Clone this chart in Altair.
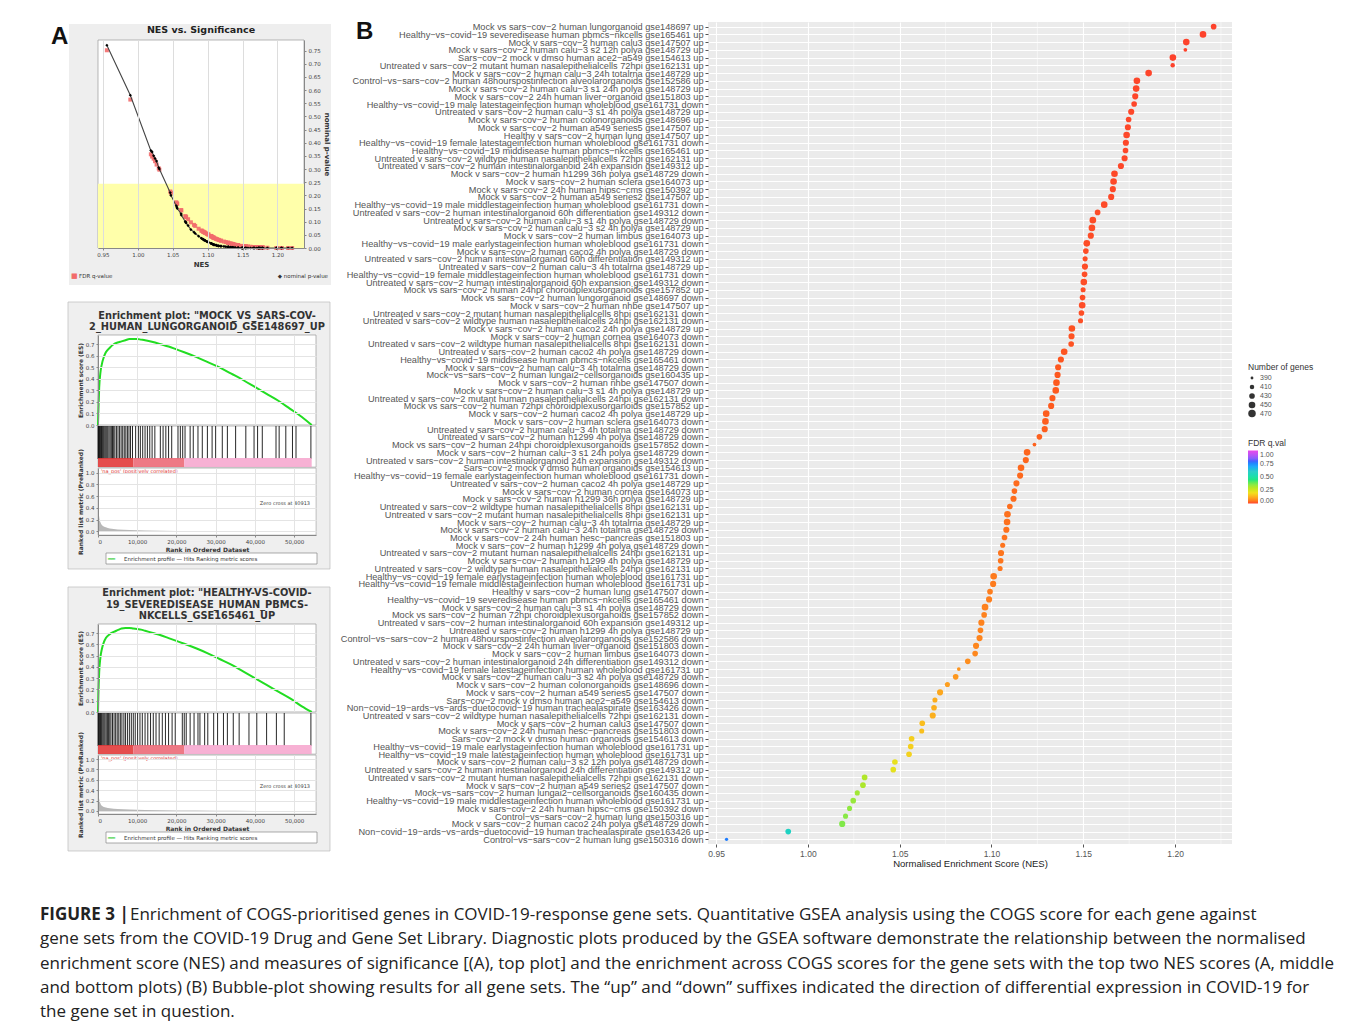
import altair as alt
import pandas as pd

# ---------------- Panel B data ----------------
LABELS = [
    "Mock vs sars−cov−2 human lungorganoid gse148697 up",
    "Healthy−vs−covid−19 severedisease human pbmcs−nkcells gse165461 up",
    "Mock v sars−cov−2 human calu3 gse147507 up",
    "Mock v sars−cov−2 human calu−3 s2 12h polya gse148729 up",
    "Sars−cov−2 mock v dmso human ace2−a549 gse154613 up",
    "Untreated v sars−cov−2 mutant human nasalepithelialcells 72hpi gse162131 up",
    "Mock v sars−cov−2 human calu−3 24h totalrna gse148729 up",
    "Control−vs−sars−cov−2 human 48hourspostinfection alveolarorganoids gse152586 up",
    "Mock v sars−cov−2 human calu−3 s1 24h polya gse148729 up",
    "Mock v sars−cov−2 24h human liver−organoid gse151803 up",
    "Healthy−vs−covid−19 male latestageinfection human wholeblood gse161731 down",
    "Untreated v sars−cov−2 human calu−3 s1 4h polya gse148729 up",
    "Mock v sars−cov−2 human colonorganoids gse148696 up",
    "Mock v sars−cov−2 human a549 series5 gse147507 up",
    "Healthy v sars−cov−2 human lung gse147507 up",
    "Healthy−vs−covid−19 female latestageinfection human wholeblood gse161731 down",
    "Healthy−vs−covid−19 middisease human pbmcs−nkcells gse165461 up",
    "Untreated v sars−cov−2 wildtype human nasalepithelialcells 72hpi gse162131 up",
    "Untreated v sars−cov−2 human intestinalorganoid 24h expansion gse149312 up",
    "Mock v sars−cov−2 human h1299 36h polya gse148729 down",
    "Mock v sars−cov−2 human sclera gse164073 up",
    "Mock v sars−cov−2 24h human hipsc−cms gse150392 up",
    "Mock v sars−cov−2 human a549 series2 gse147507 up",
    "Healthy−vs−covid−19 male middlestageinfection human wholeblood gse161731 down",
    "Untreated v sars−cov−2 human intestinalorganoid 60h differentiation gse149312 down",
    "Untreated v sars−cov−2 human calu−3 s1 4h polya gse148729 down",
    "Mock v sars−cov−2 human calu−3 s2 4h polya gse148729 up",
    "Mock v sars−cov−2 human limbus gse164073 up",
    "Healthy−vs−covid−19 male earlystageinfection human wholeblood gse161731 down",
    "Mock v sars−cov−2 human caco2 4h polya gse148729 down",
    "Untreated v sars−cov−2 human intestinalorganoid 60h differentiation gse149312 up",
    "Untreated v sars−cov−2 human calu−3 4h totalrna gse148729 up",
    "Healthy−vs−covid−19 female middlestageinfection human wholeblood gse161731 down",
    "Untreated v sars−cov−2 human intestinalorganoid 60h expansion gse149312 down",
    "Mock vs sars−cov−2 human 24hpi choroidplexusorganoids gse157852 up",
    "Mock vs sars−cov−2 human lungorganoid gse148697 down",
    "Mock v sars−cov−2 human nhbe gse147507 up",
    "Untreated v sars−cov−2 mutant human nasalepithelialcells 8hpi gse162131 down",
    "Untreated v sars−cov−2 wildtype human nasalepithelialcells 24hpi gse162131 down",
    "Mock v sars−cov−2 human caco2 24h polya gse148729 up",
    "Mock v sars−cov−2 human cornea gse164073 down",
    "Untreated v sars−cov−2 wildtype human nasalepithelialcells 8hpi gse162131 down",
    "Untreated v sars−cov−2 human caco2 4h polya gse148729 down",
    "Healthy−vs−covid−19 middisease human pbmcs−nkcells gse165461 down",
    "Mock v sars−cov−2 human calu−3 4h totalrna gse148729 down",
    "Mock−vs−sars−cov−2 human lungai2−cellsorganoids gse160435 up",
    "Mock v sars−cov−2 human nhbe gse147507 down",
    "Mock v sars−cov−2 human calu−3 s1 4h polya gse148729 up",
    "Untreated v sars−cov−2 mutant human nasalepithelialcells 24hpi gse162131 down",
    "Mock vs sars−cov−2 human 72hpi choroidplexusorganoids gse157852 up",
    "Mock v sars−cov−2 human caco2 4h polya gse148729 up",
    "Mock v sars−cov−2 human sclera gse164073 down",
    "Untreated v sars−cov−2 human calu−3 4h totalrna gse148729 down",
    "Untreated v sars−cov−2 human h1299 4h polya gse148729 down",
    "Mock vs sars−cov−2 human 24hpi choroidplexusorganoids gse157852 down",
    "Mock v sars−cov−2 human calu−3 s1 24h polya gse148729 down",
    "Untreated v sars−cov−2 human intestinalorganoid 24h expansion gse149312 down",
    "Sars−cov−2 mock v dmso human organoids gse154613 up",
    "Healthy−vs−covid−19 female earlystageinfection human wholeblood gse161731 down",
    "Untreated v sars−cov−2 human caco2 4h polya gse148729 up",
    "Mock v sars−cov−2 human cornea gse164073 up",
    "Mock v sars−cov−2 human h1299 36h polya gse148729 up",
    "Untreated v sars−cov−2 wildtype human nasalepithelialcells 8hpi gse162131 up",
    "Untreated v sars−cov−2 mutant human nasalepithelialcells 8hpi gse162131 up",
    "Mock v sars−cov−2 human calu−3 4h totalrna gse148729 up",
    "Mock v sars−cov−2 human calu−3 24h totalrna gse148729 down",
    "Mock v sars−cov−2 24h human hesc−pancreas gse151803 up",
    "Mock v sars−cov−2 human h1299 4h polya gse148729 down",
    "Untreated v sars−cov−2 mutant human nasalepithelialcells 24hpi gse162131 up",
    "Mock v sars−cov−2 human h1299 4h polya gse148729 up",
    "Untreated v sars−cov−2 wildtype human nasalepithelialcells 24hpi gse162131 up",
    "Healthy−vs−covid−19 female earlystageinfection human wholeblood gse161731 up",
    "Healthy−vs−covid−19 female middlestageinfection human wholeblood gse161731 up",
    "Healthy v sars−cov−2 human lung gse147507 down",
    "Healthy−vs−covid−19 severedisease human pbmcs−nkcells gse165461 down",
    "Mock v sars−cov−2 human calu−3 s1 4h polya gse148729 down",
    "Mock vs sars−cov−2 human 72hpi choroidplexusorganoids gse157852 down",
    "Untreated v sars−cov−2 human intestinalorganoid 60h expansion gse149312 up",
    "Untreated v sars−cov−2 human h1299 4h polya gse148729 up",
    "Control−vs−sars−cov−2 human 48hourspostinfection alveolarorganoids gse152586 down",
    "Mock v sars−cov−2 24h human liver−organoid gse151803 down",
    "Mock v sars−cov−2 human limbus gse164073 down",
    "Untreated v sars−cov−2 human intestinalorganoid 24h differentiation gse149312 down",
    "Healthy−vs−covid−19 female latestageinfection human wholeblood gse161731 up",
    "Mock v sars−cov−2 human calu−3 s2 4h polya gse148729 down",
    "Mock v sars−cov−2 human colonorganoids gse148696 down",
    "Mock v sars−cov−2 human a549 series5 gse147507 down",
    "Sars−cov−2 mock v dmso human ace2−a549 gse154613 down",
    "Non−covid−19−ards−vs−ards−duetocovid−19 human trachealaspirate gse163426 down",
    "Untreated v sars−cov−2 wildtype human nasalepithelialcells 72hpi gse162131 down",
    "Mock v sars−cov−2 human calu3 gse147507 down",
    "Mock v sars−cov−2 24h human hesc−pancreas gse151803 down",
    "Sars−cov−2 mock v dmso human organoids gse154613 down",
    "Healthy−vs−covid−19 male earlystageinfection human wholeblood gse161731 up",
    "Healthy−vs−covid−19 male latestageinfection human wholeblood gse161731 up",
    "Mock v sars−cov−2 human calu−3 s2 12h polya gse148729 down",
    "Untreated v sars−cov−2 human intestinalorganoid 24h differentiation gse149312 up",
    "Untreated v sars−cov−2 mutant human nasalepithelialcells 72hpi gse162131 down",
    "Mock v sars−cov−2 human a549 series2 gse147507 down",
    "Mock−vs−sars−cov−2 human lungai2−cellsorganoids gse160435 down",
    "Healthy−vs−covid−19 male middlestageinfection human wholeblood gse161731 up",
    "Mock v sars−cov−2 24h human hipsc−cms gse150392 down",
    "Control−vs−sars−cov−2 human lung gse150316 up",
    "Mock v sars−cov−2 human caco2 24h polya gse148729 down",
    "Non−covid−19−ards−vs−ards−duetocovid−19 human trachealaspirate gse163426 up",
    "Control−vs−sars−cov−2 human lung gse150316 down",
]

NES = [
    1.2210, 1.2152, 1.2061, 1.2056, 1.1988, 1.1987, 1.1856, 1.1792, 1.1788, 1.1783,
    1.1777, 1.1761, 1.1747, 1.1743, 1.1736, 1.1732, 1.1730, 1.1725, 1.1705, 1.1670,
    1.1665, 1.1661, 1.1652, 1.1614, 1.1578, 1.1552, 1.1547, 1.1541, 1.1519, 1.1514,
    1.1510, 1.1509, 1.1507, 1.1503, 1.1499, 1.1496, 1.1494, 1.1490, 1.1485, 1.1438,
    1.1436, 1.1434, 1.1396, 1.1378, 1.1363, 1.1360, 1.1354, 1.1350, 1.1332, 1.1325,
    1.1298, 1.1294, 1.1290, 1.1261, 1.1234, 1.1194, 1.1187, 1.1161, 1.1156, 1.1136,
    1.1125, 1.1120, 1.1100, 1.1087, 1.1085, 1.1081, 1.1071, 1.1061, 1.1052, 1.1050,
    1.1047, 1.1012, 1.1009, 1.0992, 1.0987, 1.0965, 1.0960, 1.0945, 1.0940, 1.0935,
    1.0916, 1.0911, 1.0871, 1.0822, 1.0805, 1.0760, 1.0720, 1.0692, 1.0687, 1.0680,
    1.0623, 1.0620, 1.0565, 1.0560, 1.0551, 1.0474, 1.0465, 1.0309, 1.0300, 1.0269,
    1.0247, 1.0227, 1.0205, 1.0187, 0.9893, 0.9557,
]

FDR = [
    0.000, 0.000, 0.000, 0.000, 0.000, 0.000, 0.001,
    0.002, 0.002, 0.002, 0.002, 0.003, 0.003, 0.003, 0.003, 0.003, 0.003, 0.003, 0.003, 0.004, 0.004, 0.004, 0.004,
    0.005, 0.006, 0.006, 0.006, 0.007, 0.007, 0.007, 0.007, 0.007, 0.007, 0.007, 0.007, 0.007, 0.007, 0.008, 0.008,
    0.011, 0.011, 0.011, 0.013, 0.014, 0.015, 0.015, 0.016, 0.016, 0.017, 0.018,
    0.020, 0.020, 0.021, 0.023, 0.025, 0.028, 0.029, 0.031, 0.032, 0.034,
    0.035, 0.036, 0.038, 0.040, 0.040, 0.041, 0.043, 0.044, 0.046, 0.046, 0.047,
    0.052, 0.053, 0.055, 0.056, 0.059, 0.060, 0.062, 0.063, 0.064, 0.067, 0.068,
    0.075, 0.086, 0.090, 0.100, 0.112, 0.120, 0.122, 0.124,
    0.146, 0.148, 0.172, 0.174, 0.178, 0.215, 0.220,
    0.305, 0.310, 0.325, 0.338, 0.348, 0.356, 0.365,
    0.578, 0.770,
]

GENES = [
    430, 450, 450, 400, 450, 410, 450, 450, 450, 440, 430, 440, 430, 440, 450, 440, 430, 440, 440, 450,
    450, 440, 440, 450, 430, 450, 450, 440, 450, 430, 420, 440, 430, 450, 420, 430, 450, 430, 420, 450,
    440, 430, 450, 440, 440, 440, 450, 450, 440, 440, 450, 450, 440, 430, 400, 450, 440, 450, 440, 440,
    430, 440, 430, 450, 450, 440, 430, 420, 440, 430, 420, 450, 440, 430, 440, 450, 430, 440, 430, 440,
    440, 430, 430, 400, 430, 420, 440, 420, 430, 440, 430, 420, 430, 430, 430, 430, 430, 430, 430, 420,
    430, 420, 420, 440, 430, 395,
]

NOM_P = [
    0.0, 0.0, 0.0, 0.0, 0.0, 0.0, 0.0, 0.0, 0.0, 0.0, 0.0, 0.0, 0.0,
    0.0, 0.0, 0.0, 0.0, 0.0, 0.0, 0.0, 0.0, 0.0, 0.0, 0.0, 0.0, 0.0,
    0.0, 0.0, 0.0, 0.0, 0.0, 0.0, 0.0, 0.0, 0.0, 0.0, 0.0, 0.0, 0.0,
    0.001, 0.001, 0.001, 0.002, 0.002, 0.002, 0.002, 0.002, 0.003, 0.003, 0.003,
    0.004, 0.004, 0.004, 0.005, 0.006, 0.007, 0.007, 0.008, 0.008, 0.009,
    0.010, 0.011, 0.012, 0.013, 0.013, 0.013, 0.015, 0.016, 0.017, 0.017, 0.018,
    0.022, 0.022, 0.024, 0.025, 0.028, 0.029, 0.031, 0.032, 0.033, 0.036, 0.037,
    0.045, 0.055, 0.060, 0.070, 0.085, 0.095, 0.098, 0.100,
    0.125, 0.130, 0.150, 0.155, 0.160, 0.200, 0.210,
    0.300, 0.305, 0.330, 0.340, 0.350, 0.365, 0.370,
    0.580, 0.770,
]

X_TICKS_B = [0.95, 1.00, 1.05, 1.10, 1.15, 1.20]
X_MINOR_B = [0.975, 1.025, 1.075, 1.125, 1.175, 1.225]
GENE_LEGEND = [390, 410, 430, 450, 470]
FDR_LEGEND = [0.0, 0.25, 0.5, 0.75, 1.0]
FDR_STOPS = [0.0, 0.2, 0.4, 0.6, 0.8, 1.0]
RAINBOW = ["#ff2a10", "#f0dc00", "#44e844", "#10c8c0", "#2a4cff", "#e630e6"]

# ---------------- Panel A data ----------------
A_X_TICKS = [0.95, 1.00, 1.05, 1.10, 1.15, 1.20]
A_LEFT_TICKS = [0, 5, 10, 15, 20, 25, 30, 35, 40, 45, 50, 55, 60, 65, 70, 75, 80]
A_RIGHT_TICKS = [0.0, 0.05, 0.10, 0.15, 0.20, 0.25, 0.30, 0.35, 0.40, 0.45, 0.50, 0.55, 0.60, 0.65, 0.70, 0.75]

ES_RANK = [0, 100, 300, 600, 1000, 1500, 2000, 3000, 4000, 5000, 6000, 7000, 8000, 9000, 10000,
           11000, 12000, 14000, 16000, 18000, 20000, 22000, 25000, 28000, 31000, 34000, 37000,
           40000, 43000, 46000, 49000, 52000, 54500]
ES_MOCK = [0.0, 0.12, 0.32, 0.45, 0.53, 0.59, 0.63, 0.67, 0.70, 0.715, 0.725, 0.735, 0.745, 0.745,
           0.745, 0.74, 0.735, 0.72, 0.70, 0.68, 0.655, 0.63, 0.59, 0.545, 0.50, 0.445, 0.39, 0.33,
           0.27, 0.21, 0.14, 0.07, 0.0]
ES_HEALTHY = [0.0, 0.15, 0.35, 0.48, 0.56, 0.62, 0.655, 0.69, 0.71, 0.725, 0.74, 0.745, 0.745, 0.74,
              0.735, 0.73, 0.72, 0.70, 0.68, 0.655, 0.63, 0.605, 0.565, 0.52, 0.47, 0.42, 0.36, 0.30,
              0.24, 0.18, 0.12, 0.05, 0.0]

HITS_MOCK = [20, 120, 250, 400, 550, 700, 900, 1100, 1300, 1500, 1750, 2000, 2250, 2500, 2800, 3100,
             3400, 3700, 4000, 4300, 4700, 5100, 5500, 5900, 6300, 6700, 7100, 7500, 7900, 8300, 8800,
             9600, 10300, 10800, 11400, 12000, 12600, 13200, 13800, 14500, 15900, 16600, 17300, 18000,
             18800, 20400, 21000, 21600, 22200, 23500, 24300, 25500, 26600, 27900, 29100, 30000, 31700,
             33000, 35100, 37700, 39800, 40700, 41900, 45400, 46200, 47900, 49600, 50500, 54300]
HITS_HEALTHY = [30, 150, 300, 450, 650, 850, 1050, 1300, 1550, 1800, 2100, 2400, 2700, 3000, 3300,
                3700, 4100, 4500, 4900, 5300, 5700, 6100, 6600, 7000, 7500, 8000, 8500, 9000, 9500,
                10100, 10700, 11300, 12000, 12700, 13400, 14100, 14800, 15600, 16400, 17200, 18000,
                18900, 19700, 21500, 22000, 22500, 23500, 24500, 25500, 26000, 27200, 28000, 29500,
                30500, 32000, 33000, 34500, 36000, 38500, 40500, 43000, 45500, 47500, 54300]

METRIC_RANK = [0, 100, 300, 600, 1000, 2000, 3000, 5000, 8000, 12000, 20000, 30000, 40913, 54500]
METRIC_MOCK = [1.0, 0.45, 0.25, 0.16, 0.11, 0.07, 0.05, 0.035, 0.025, 0.015, 0.008, 0.004, 0.0, 0.0]
METRIC_HEALTHY = [1.0, 0.42, 0.23, 0.15, 0.10, 0.065, 0.05, 0.035, 0.025, 0.015, 0.008, 0.004, 0.0, 0.0]

STRIP_FROM = [0, 9000, 22000]
STRIP_TO = [9000, 22000, 54500]
STRIP_PART = ["high", "mid", "low"]
STRIP_COLORS = ["#e23a3a", "#ec6a78", "#f6a8cf"]

RANK_TICKS = [0, 10000, 20000, 30000, 40000, 50000]
ES_TICKS = [0.0, 0.1, 0.2, 0.3, 0.4, 0.5, 0.6, 0.7]
METRIC_TICKS = [0.0, 0.2, 0.4, 0.6, 0.8, 1.0]

TITLE_MOCK = ["Enrichment plot: \"MOCK_VS_SARS-COV-", "2_HUMAN_LUNGORGANOID_GSE148697_UP"]
TITLE_HEALTHY = ["Enrichment plot: \"HEALTHY-VS-COVID-", "19_SEVEREDISEASE_HUMAN_PBMCS-", "NKCELLS_GSE165461_UP"]

CAPTION_LEAD = "FIGURE 3 |"
CAPTION_LINES = [
    "Enrichment of COGS-prioritised genes in COVID-19-response gene sets. Quantitative GSEA analysis using the COGS score for each gene against",
    "gene sets from the COVID-19 Drug and Gene Set Library. Diagnostic plots produced by the GSEA software demonstrate the relationship between the normalised",
    "enrichment score (NES) and measures of significance [(A), top plot] and the enrichment across COGS scores for the gene sets with the top two NES scores (A, middle",
    "and bottom plots) (B) Bubble-plot showing results for all gene sets. The \u201cup\u201d and \u201cdown\u201d suffixes indicated the direction of differential expression in COVID-19 for",
    "the gene set in question.",
]

FA = "DejaVu Sans"
FB = "Liberation Sans"
FC = "Open Sans"
ONE = pd.DataFrame({"k": [0]})


def box(x1, x2, y1, y2, fill, stroke=None):
    kw = dict(fill=fill)
    if stroke:
        kw.update(stroke=stroke, strokeWidth=0.7)
    return alt.Chart(ONE).mark_rect(**kw).encode(
        x=alt.value(x1), x2=alt.value(x2), y=alt.value(y1), y2=alt.value(y2))


def label(text, x, y, size, color="#333", align="left", weight="normal", font=FA, baseline="middle", angle=0):
    return alt.Chart(pd.DataFrame({"t": [text]})).mark_text(
        font=font, fontSize=size, color=color, align=align, fontWeight=weight, baseline=baseline,
        angle=angle).encode(text="t:N", x=alt.value(x), y=alt.value(y))


# ---------------- Panel A top: NES vs Significance ----------------
WA, HA = 206, 208
dfA = pd.DataFrame({"nes": NES, "fdr_pct": [v * 100 for v in FDR], "nom": NOM_P})
xA = alt.Scale(domain=[0.943, 1.238], nice=False, zero=False)
yL = alt.Scale(domain=[0, 81], nice=False)
yR = alt.Scale(domain=[0, 0.79], nice=False)
axA = dict(labelFont=FA, labelFontSize=5.5, labelColor="#444", titleFont=FA, titleFontSize=7,
           titleFontWeight="bold", titleColor="#333", tickColor="#888", tickSize=2, domainColor="#888",
           labelPadding=2, titlePadding=3, zindex=1)

bgA = box(-29, 233, -16, 245, "#eeeeee")
plotA = box(0, WA, 0, HA, "white", "#999")
yellow = alt.Chart(pd.DataFrame({"lo": [0], "hi": [25]})).mark_rect(color="#ffffaa").encode(
    x=alt.value(0), x2=alt.value(WA),
    y=alt.Y("lo:Q", scale=yL, axis=None), y2="hi:Q")
redpts = alt.Chart(dfA).mark_square(color="#f26b6b", size=16, opacity=0.9).encode(
    x=alt.X("nes:Q", scale=xA, axis=alt.Axis(values=A_X_TICKS, format=".2f", title="NES",
                                             gridColor="#dddddd", **axA)),
    y=alt.Y("fdr_pct:Q", scale=yL, axis=alt.Axis(values=A_LEFT_TICKS, title="FDR q-value",
                                                 gridColor="#dddddd", **axA)))
leftA = alt.layer(bgA, plotA, yellow, redpts)
nomline = alt.Chart(dfA).mark_line(color="#444", strokeWidth=1.1,
                                   point=alt.OverlayMarkDef(shape="diamond", size=10, color="black")).encode(
    x=alt.X("nes:Q", scale=xA),
    y=alt.Y("nom:Q", scale=yR, axis=alt.Axis(values=A_RIGHT_TICKS, format=".2f", orient="right",
                                             title="nominal p-value", grid=False, **axA)))
topA = alt.layer(
    leftA, nomline,
    label("NES vs. Significance", WA / 2, -10, 9.5, "#222", "center", "bold"),
    label("■", -27, 236, 7, "#f26b6b"),
    label("FDR q-value", -19, 236, 5.5),
    label("◆ nominal p-value", 230, 236, 5.5, align="right"),
    label("A", -47, -15, 24, "#111", "left", "bold", FB, "top"),
).resolve_scale(y="independent").properties(
    width=WA, height=HA, view=alt.ViewBackground(fill=None, stroke=None))


# ---------------- Panel A enrichment plots ----------------
def enrichment(title_lines, es_vals, hits, metric_vals, h_es, h_hit, h_met, box_top, box_bottom):
    W = 218
    xs = alt.Scale(domain=[0, 55600], nice=False)
    ax = dict(labelFont=FA, labelFontSize=5.5, labelColor="#444", titleFont=FA, titleFontSize=6,
              titleFontWeight="bold", titleColor="#333", tickColor="#888", tickSize=2, domainColor="#888",
              gridColor="#e4e4e4", labelPadding=2, titlePadding=2, zindex=1)
    n_lines = len(title_lines)
    title_layers = [label(t, W / 2, -8 - 11.5 * (n_lines - 1 - i), 9.8, "#333", "center", "bold")
                    for i, t in enumerate(title_lines)]
    esline = alt.Chart(pd.DataFrame({"rank": ES_RANK, "es": es_vals})).mark_line(
        color="#22dd22", strokeWidth=2, interpolate="monotone").encode(
        x=alt.X("rank:Q", scale=xs, axis=alt.Axis(values=RANK_TICKS, labels=False, ticks=False, title=None,
                                                  domain=False, labelFont=FA, gridColor="#e4e4e4", zindex=1)),
        y=alt.Y("es:Q", scale=alt.Scale(domain=[0, 0.78], nice=False),
                axis=alt.Axis(values=ES_TICKS, format=".1f", title="Enrichment score (ES)", **ax)))
    es = alt.layer(
        box(-30, 232, box_top, box_bottom, "#efefef", "#bbbbbb"),
        box(0, W, 0, h_es, "white", "#999"),
        esline, *title_layers,
    ).properties(width=W, height=h_es, view=alt.ViewBackground(fill=None, stroke=None))

    bars = alt.Chart(pd.DataFrame({"rank": hits})).mark_rule(color="#111", strokeWidth=1, opacity=0.9).encode(
        x=alt.X("rank:Q", scale=xs, axis=None), y=alt.value(0), y2=alt.value(h_hit - 8))
    strip = alt.Chart(pd.DataFrame({"a": STRIP_FROM, "b": STRIP_TO, "part": STRIP_PART})).mark_rect(opacity=0.9).encode(
        x=alt.X("a:Q", scale=xs, axis=None), x2="b:Q", y=alt.value(h_hit - 9), y2=alt.value(h_hit),
        color=alt.Color("part:N", scale=alt.Scale(domain=STRIP_PART, range=STRIP_COLORS), legend=None))
    hitpanel = alt.layer(bars, strip).properties(
        width=W, height=h_hit, view=alt.ViewBackground(fill="white", stroke="#999", strokeWidth=0.6))

    area = alt.Chart(pd.DataFrame({"rank": METRIC_RANK, "m": metric_vals})).mark_area(
        color="#b8b8b8", interpolate="monotone").encode(
        x=alt.X("rank:Q", scale=xs, axis=alt.Axis(values=RANK_TICKS, format=",d",
                                                  title="Rank in Ordered Dataset", **ax)),
        y=alt.Y("m:Q", scale=alt.Scale(domain=[-0.06, 1.08], nice=False),
                axis=alt.Axis(values=METRIC_TICKS, format=".1f", title="Ranked list metric (PreRanked)", **ax)))
    metricpanel = alt.layer(
        area,
        label("'na_pos' (positively correlated)", 3, 1, 5, "#e03030", baseline="top"),
        label("Zero cross at 40913", 212, h_met * 0.52, 5, "#444", "right"),
        box(8, 219, h_met + 18, h_met + 29, "white", "#888"),
        label("━━", 10, h_met + 23.5, 6, "#22cc22"),
        label("Enrichment profile  —  Hits        Ranking metric scores", 26, h_met + 23.5, 5.5),
    ).properties(width=W, height=h_met, view=alt.ViewBackground(fill="white", stroke="#999", strokeWidth=0.6))

    return alt.vconcat(es, hitpanel, metricpanel, spacing=1, bounds="flush").resolve_scale(
        color="independent").resolve_legend(color="independent")


enr1 = enrichment(TITLE_MOCK, ES_MOCK, HITS_MOCK, METRIC_MOCK, 90, 41, 67, -33, 234)
enr2 = enrichment(TITLE_HEALTHY, ES_HEALTHY, HITS_HEALTHY, METRIC_HEALTHY, 88, 41, 59, -37, 227)

spacerA = alt.Chart(ONE).mark_rect(opacity=0).encode(
    x=alt.value(0), x2=alt.value(1), y=alt.value(0), y2=alt.value(1)).properties(
    width=WA, height=1, view=alt.ViewBackground(fill=None, stroke=None))

innerA = alt.vconcat(topA, enr1, enr2, spacing=16).resolve_scale(
    color="independent", size="independent").resolve_legend(color="independent", size="independent")
colA = alt.vconcat(spacerA, innerA, spacing=1).resolve_scale(
    color="independent", size="independent").resolve_legend(color="independent", size="independent")

# ---------------- Panel B ----------------
dfB = pd.DataFrame({"label": LABELS, "nes": NES, "fdr": FDR, "genes": GENES})
xsB = alt.Scale(domain=[0.9456, 1.2310], nice=False, zero=False)
axB = alt.Axis(values=X_TICKS_B, format=".2f", title="Normalised Enrichment Score (NES)",
               grid=True, gridColor="white", gridWidth=1.1, labelFont=FB, labelFontSize=8.5,
               labelColor="#555", titleFont=FB, titleFontSize=9.5, titleFontWeight="normal",
               titleColor="#222", tickColor="#555", tickSize=3, domain=False,
               labelPadding=2, titlePadding=1)

minorB = alt.Chart(pd.DataFrame({"nes": X_MINOR_B})).mark_rule(color="white", strokeWidth=0.5).encode(
    x=alt.X("nes:Q", scale=xsB, axis=axB))

ptsB = alt.Chart(dfB).mark_circle(opacity=0.88).encode(
    x=alt.X("nes:Q", scale=xsB, axis=axB),
    y=alt.Y("label:N", sort=LABELS, scale=alt.Scale(padding=0.6),
            axis=alt.Axis(title=None, grid=True, gridColor="white", gridWidth=1, labelFont=FB,
                          labelFontSize=9.2, labelColor="#555", labelLimit=600, tickColor="#555",
                          tickSize=3, domain=False, labelPadding=2)),
    color=alt.Color("fdr:Q", scale=alt.Scale(domain=FDR_STOPS, range=RAINBOW),
                    legend=alt.Legend(title="FDR q.val", values=FDR_LEGEND, format=".2f", orient="none",
                                      legendX=540, legendY=417, gradientLength=53, gradientThickness=10,
                                      direction="vertical", labelFont=FB, labelFontSize=7, labelColor="#555",
                                      titleFont=FB, titleFontSize=8.5, titleFontWeight="normal",
                                      titleColor="#333", titlePadding=3)),
    size=alt.Size("genes:Q", scale=alt.Scale(domain=[390, 470], range=[8, 56]),
                  legend=alt.Legend(title="Number of genes", values=GENE_LEGEND, orient="none",
                                    legendX=540, legendY=341, direction="vertical",
                                    symbolFillColor="#333", symbolStrokeColor="#333",
                                    symbolStrokeWidth=0, symbolOpacity=1,
                                    labelFont=FB, labelFontSize=7, labelColor="#555", titleFont=FB,
                                    titleFontSize=8.5, titleFontWeight="normal", titleColor="#333",
                                    rowPadding=1, titlePadding=3)),
)

panelB = alt.layer(
    minorB, ptsB, label("B", -352, -2, 24, "#111", "left", "bold", FB, "top"),
).properties(width=524, height=822, view=alt.ViewBackground(fill="#ebebeb", stroke=None))

top = alt.hconcat(colA, panelB, spacing=9).resolve_scale(
    color="independent", size="independent").resolve_legend(color="independent", size="independent")

# ---------------- Caption ----------------
dfCap = pd.DataFrame({"line": list(range(len(CAPTION_LINES))), "text": CAPTION_LINES})
capY = alt.Scale(domain=[0, 4], nice=False, reverse=True)
capRest = alt.Chart(dfCap).transform_filter("datum.line > 0").mark_text(
    font=FC, fontSize=17, align="left", color="#222").encode(
    x=alt.value(-58), y=alt.Y("line:Q", scale=capY, axis=None), text="text:N")
capFirst = alt.Chart(dfCap).transform_filter("datum.line == 0").mark_text(
    font=FC, fontSize=17, align="left", color="#222").encode(
    x=alt.value(32), y=alt.Y("line:Q", scale=capY, axis=None), text="text:N")
capLead = alt.Chart(pd.DataFrame({"t": [CAPTION_LEAD], "line": [0]})).mark_text(
    font=FC, fontSize=17, fontWeight="bold", align="left", color="#222").encode(
    x=alt.value(-58), y=alt.Y("line:Q", scale=capY, axis=None), text="t:N")
caption = alt.layer(capRest, capFirst, capLead).properties(
    width=1180, height=97, view=alt.ViewBackground(fill=None, stroke=None))

chart = alt.vconcat(top, caption, spacing=38).resolve_scale(
    color="independent", size="independent").resolve_legend(color="independent", size="independent").properties(
    padding={"left": 32, "top": 12, "right": 5, "bottom": 5}
).configure_view(stroke=None)

chart.save("out.html", embed_options={"renderer": "svg", "actions": False})
